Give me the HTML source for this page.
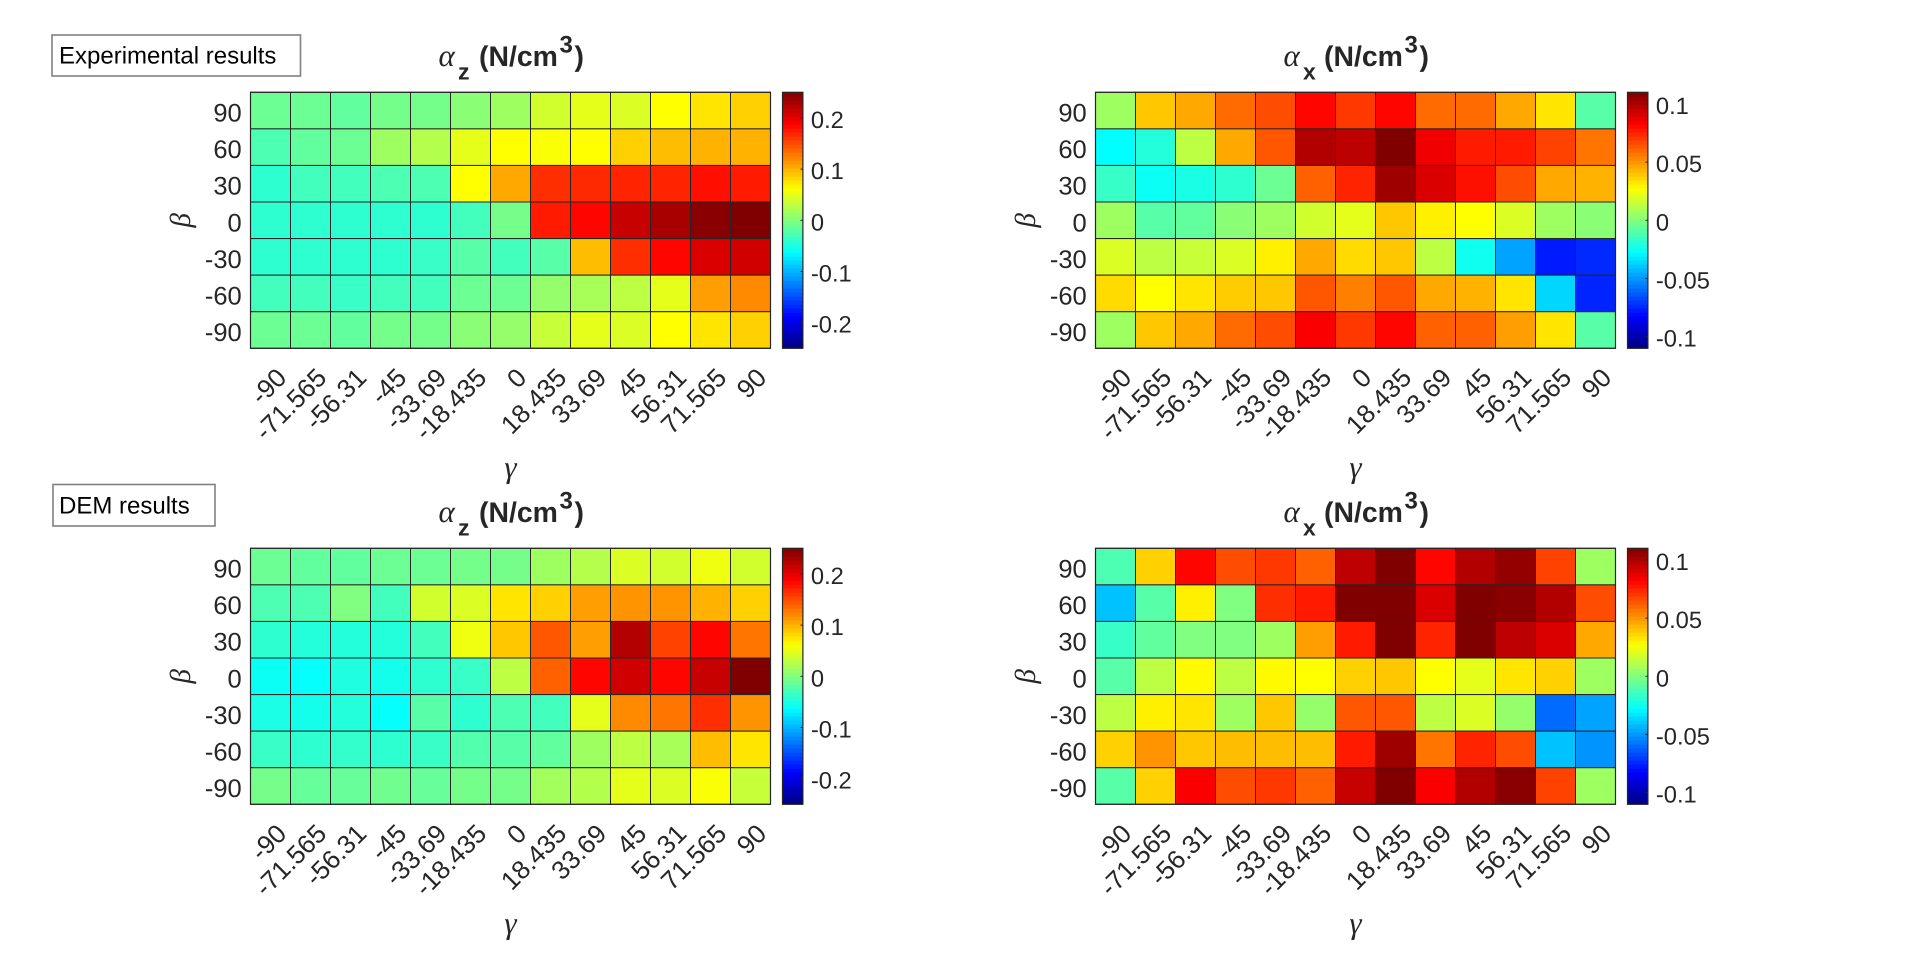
<!DOCTYPE html>
<html lang="en">
<head>
<meta charset="utf-8">
<title>Experimental and DEM results heatmaps</title>
<style>
html,body{margin:0;padding:0;background:#fff;}
svg{display:block;}
text{font-family:"Liberation Sans",sans-serif;fill:#262626;text-rendering:geometricPrecision;}
.greek{font-family:"Liberation Serif",serif;font-style:italic;}
</style>
</head>
<body>
<svg id="figure" xmlns="http://www.w3.org/2000/svg" width="1920" height="963" viewBox="0 0 1920 963">
  <rect x="0" y="0" width="1920" height="963" fill="#ffffff"/>
  <g>
    <rect x="52" y="35" width="248.5" height="41" fill="#ffffff" stroke="#808080" stroke-width="1.6"/>
    <text x="59" y="63.3" font-size="24" style="fill:#000">Experimental results</text>
  </g>
  <g>
    <rect x="53" y="484.5" width="162" height="41.5" fill="#ffffff" stroke="#808080" stroke-width="1.6"/>
    <text x="59" y="513.5" font-size="24" style="fill:#000">DEM results</text>
  </g>
</svg>
<script>
const gammaLabels = ["-90","-71.565","-56.31","-45","-33.69","-18.435","0","18.435","33.69","45","56.31","71.565","90"];
const betaLabels = ["90","60","30","0","-30","-60","-90"];
const zTicks = [0.2,0.1,0,-0.1,-0.2];
const xTicks = [0.1,0.05,0,-0.05,-0.1];
const zLimit = 0.25;
const xLimit = 0.11;

const expAlphaZ = [
  [-.01,-.01,-.015,-.005,-.005,.005,.015,.04,.05,.045,.0625,.075,.085],
  [-.025,-.015,-.01,.015,.025,.05,.0625,.06,.0625,.085,.095,.1,.1],
  [-.04,-.03,-.03,-.025,-.025,.0625,.105,.165,.1675,.17,.17,.18,.175],
  [-.04,-.04,-.04,-.04,-.04,-.03,-.005,.175,.185,.215,.23,.245,.25],
  [-.04,-.04,-.04,-.04,-.035,-.02,-.03,-.02,.095,.165,.185,.205,.21],
  [-.03,-.03,-.035,-.03,-.03,-.01,-.01,.01,.02,.03,.05,.11,.12],
  [-.01,-.01,-.015,-.005,-.005,.005,.01,.035,.05,.045,.0625,.075,.085]
];
const expAlphaX = [
  [.0066,.0396,.0462,.0594,.066,.0814,.0704,.0814,.0594,.0594,.0462,.033,-.0088],
  [-.0275,-.0198,.0132,.0462,.0638,.099,.0968,.11,.0858,.077,.077,.0682,.0572],
  [-.0154,-.0253,-.022,-.0176,-.0044,.0616,.0748,.1034,.0902,.0792,.066,.0462,.044],
  [.0066,-.0088,-.0066,.0022,.0066,.0176,.022,.0396,.0308,.0275,.0198,.0066,.0022],
  [.0198,.0132,.0154,.0198,.0308,.0462,.0352,.0396,.0132,-.0242,-.0473,-.077,-.0737],
  [.0352,.0275,.033,.0385,.0396,.0638,.055,.0638,.0462,.044,.033,-.0363,-.0748],
  [.0066,.0396,.0462,.0594,.066,.0836,.0704,.0814,.0616,.0616,.0484,.033,-.0088]
];
const demAlphaZ = [
  [-.01,-.015,-.015,-.01,-.01,-.005,-.005,.015,.025,.045,.04,.055,.04],
  [-.025,-.025,0,-.03,.04,.045,.075,.085,.11,.115,.115,.1,.085],
  [-.04,-.045,-.045,-.045,-.03,.055,.09,.145,.11,.225,.155,.185,.13],
  [-.0575,-.06,-.0475,-.0525,-.04,-.035,.03,.14,.185,.21,.185,.215,.25],
  [-.05,-.0525,-.045,-.06,-.02,-.04,-.025,-.03,.05,.12,.13,.165,.115],
  [-.035,-.04,-.0375,-.04,-.035,-.0225,-.02,-.015,.015,.03,.02,.095,.075],
  [-.005,-.0125,-.0125,-.0075,-.0125,-.005,-.005,.0175,.025,.05,.045,.06,.035]
];
const demAlphaX = [
  [-.011,.0374,.0814,.066,.0704,.0616,.0968,.11,.0814,.099,.1056,.0682,.0066],
  [-.0407,-.0088,.0308,0,.0726,.077,.11,.11,.0902,.11,.1078,.099,.066],
  [-.0154,-.0066,0,0,.0066,.0484,.077,.11,.0748,.11,.0968,.0902,.0462],
  [-.0088,.0132,.0286,.0132,.0286,.0275,.0374,.0396,.0275,.022,.033,.0374,.0066],
  [.0132,.0308,.033,.0066,.0396,.0044,.0638,.0638,.0132,.0198,.0044,-.0594,-.0473],
  [.0374,.0506,.0396,.0418,.0418,.0418,.077,.1034,.0572,.0748,.066,-.0407,-.0506],
  [-.0088,.0374,.0836,.066,.0704,.0616,.0946,.11,.0836,.099,.1078,.0682,.0066]
];

const NS = "http://www.w3.org/2000/svg";
const figure = document.getElementById("figure");
const DARK = "#262626";
const PLOT_W = 520, PLOT_H = 256, Y_TICK_FONT = 25.5, X_TICK_FONT = 26;

function clamp01(v){ return Math.max(0, Math.min(1, v)); }
function jet(t){
  const r = clamp01(1.5 - Math.abs(4*t - 3));
  const g = clamp01(1.5 - Math.abs(4*t - 2));
  const b = clamp01(1.5 - Math.abs(4*t - 1));
  return "rgb(" + Math.round(r*255) + "," + Math.round(g*255) + "," + Math.round(b*255) + ")";
}
function make(tag, attrs, parent){
  const el = document.createElementNS(NS, tag);
  for (const k in attrs) el.setAttribute(k, attrs[k]);
  parent.appendChild(el);
  return el;
}
function drawPanel(name, values, limit, ticks, subscript, left, top){
  const xScale = i => left + i * PLOT_W / gammaLabels.length;
  const yScale = j => top + j * PLOT_H / betaLabels.length;
  const colorT = v => clamp01((v + limit) / (2 * limit));
  const barScale = v => top + PLOT_H * (1 - colorT(v));

  const panel = make("g", {}, figure);
  
  

  values.forEach((row, j) => {
    row.forEach((v, i) => {
      const cell = make("rect", {
        x: xScale(i), y: yScale(j),
        width: PLOT_W / gammaLabels.length, height: PLOT_H / betaLabels.length,
        fill: jet(colorT(v)), stroke: DARK, "stroke-width": 1
      }, panel);
      
      
    });
  });

  const frame = make("rect", {x:left, y:top, width:PLOT_W, height:PLOT_H, fill:"none", stroke:DARK, "stroke-width":1.2}, panel);
  
  

  betaLabels.forEach((label, j) => {
    const t = make("text", {
      x: left - 8.8, y: yScale(j + 0.5) + 11,
      "font-size": Y_TICK_FONT, "text-anchor": "end"
    }, panel);
    t.textContent = label;
    
    
  });

  gammaLabels.forEach((label, i) => {
    const ax = xScale(i + 0.5) + 17.5;
    const ay = top + PLOT_H + 31;
    const t = make("text", {
      x: ax, y: ay, "font-size": X_TICK_FONT, "text-anchor": "end",
      transform: "rotate(-45 " + ax + " " + ay + ")"
    }, panel);
    t.textContent = label;
    
    
  });

  const ylabX = left - 60.5, ylabY = top + PLOT_H/2;
  const ylab = make("text", {
    class: "greek", x: ylabX, y: ylabY,
    "font-size": 29, "text-anchor": "middle",
    transform: "rotate(-90 " + ylabX + " " + ylabY + ")"
  }, panel);
  ylab.textContent = "β";
  
  

  const xlab = make("text", {
    class: "greek", x: left + PLOT_W/2, y: top + PLOT_H + 129,
    "font-size": 31, "text-anchor": "middle"
  }, panel);
  xlab.textContent = "γ";
  
  

  const title = make("text", {"font-size": 28, "font-weight": "bold"}, panel);
  
  
  const parts = [
    ["α", 188, 26.5, 31, "normal", "greek"],
    [subscript, 207.5, 13, 23, "bold", ""],
    ["(N/cm", 228.5, 26.5, 28.4, "bold", ""],
    ["3", 309, 40, 24, "bold", ""],
    [")", 324, 26.5, 28.4, "bold", ""]
  ];
  parts.forEach(p => {
    const s = make("tspan", {x: left + p[1], y: top - p[2], "font-size": p[3], "font-weight": p[4]}, title);
    if (p[5]) s.setAttribute("class", p[5]);
    s.textContent = p[0];
  });

  const barLeft = left + 532, barW = 20.4, levels = 64;
  const bar = make("g", {}, panel);
  
  
  for (let k = 0; k < levels; k++){
    const seg = make("rect", {
      x: barLeft, y: top + PLOT_H * (levels - 1 - k) / levels,
      width: barW, height: PLOT_H / levels + 0.4,
      fill: jet((k + 0.5) / levels)
    }, bar);
    
    
  }
  const barFrame = make("rect", {x:barLeft, y:top, width:barW, height:PLOT_H, fill:"none", stroke:DARK, "stroke-width":1.2}, bar);
  
  
  ticks.forEach(v => {
    const y = barScale(v);
    const mark = make("line", {x1: barLeft + barW - 2.5, x2: barLeft + barW, y1: y, y2: y, stroke: DARK, "stroke-width": 1}, bar);
    
    
    const t = make("text", {x: barLeft + barW + 8, y: y + 10, "font-size": 23.7}, bar);
    t.textContent = String(v);
    
    
  });
}

drawPanel("experimental-alpha-z", expAlphaZ, zLimit, zTicks, "z", 250.5, 92.3);
drawPanel("experimental-alpha-x", expAlphaX, xLimit, xTicks, "x", 1095.5, 92.3);
drawPanel("dem-alpha-z", demAlphaZ, zLimit, zTicks, "z", 250.5, 548.3);
drawPanel("dem-alpha-x", demAlphaX, xLimit, xTicks, "x", 1095.5, 548.3);
</script>
</body>
</html>
